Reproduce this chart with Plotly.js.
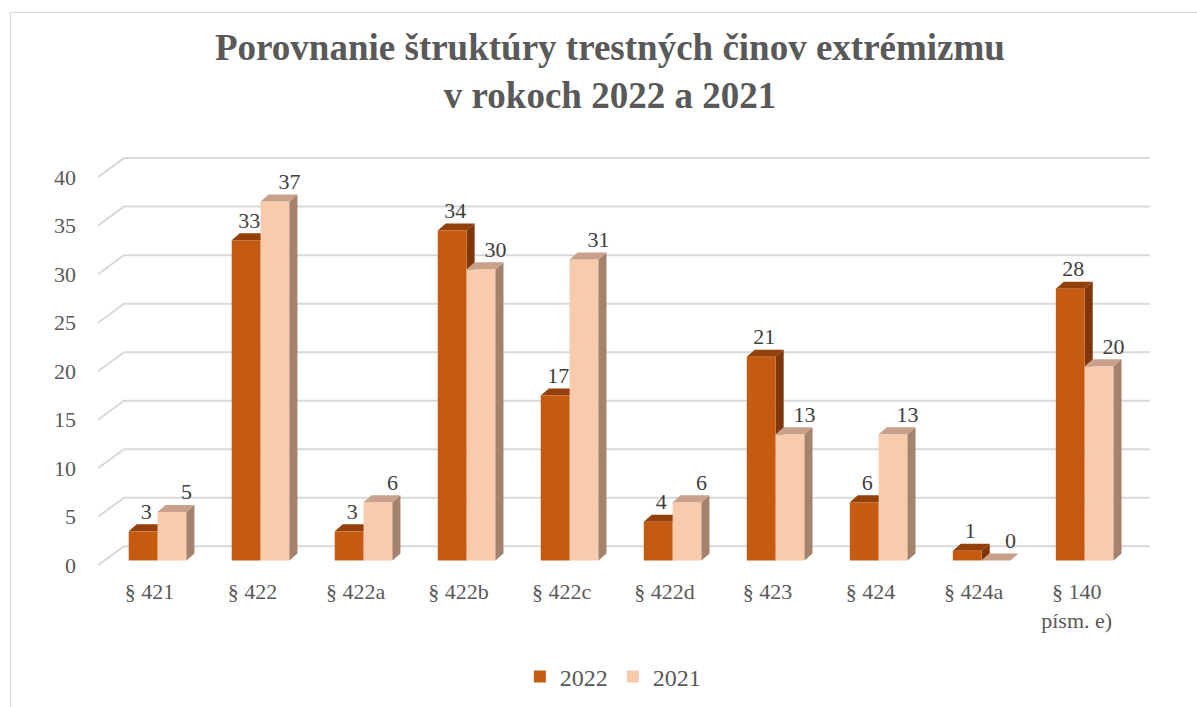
<!DOCTYPE html>
<html>
<head>
<meta charset="utf-8">
<script src="https://cdn.plot.ly/plotly-3.0.1.min.js"></script>
<style>
  html, body { margin: 0; padding: 0; background: #ffffff; }
  #wrap { position: relative; width: 1197px; height: 707px; overflow: hidden; }
  #chart { width: 1197px; height: 707px; }
  #frame { position: absolute; left: 10px; top: 12px; width: 1400px; height: 900px;
           border: 1px solid #d9d9d9; box-sizing: border-box; pointer-events: none; }
</style>
</head>
<body>
<div id="wrap"><div id="chart"></div><div id="frame"></div></div>
<script>
// ---- data ----
const categories = ['§ 421', '§ 422', '§ 422a', '§ 422b', '§ 422c', '§ 422d', '§ 423', '§ 424', '§ 424a', '§ 140<br>písm. e)'];
const values2022 = [3, 33, 3, 34, 17, 4, 21, 6, 1, 28];
const values2021 = [5, 37, 6, 30, 31, 6, 13, 13, 0, 20];
const seriesNames = ['2022', '2021'];
const yTickValues = [0, 5, 10, 15, 20, 25, 30, 35, 40];
const titleText = 'Porovnanie štruktúry trestných činov extrémizmu<br>v rokoch 2022 a 2021';

// ---- style / pseudo-3D geometry (in axis units) ----
const FONT = 'Liberation Serif';
const BAR_W = 0.28, BAR_SHIFT = 0.078, LIFT = 0.5;
const DX = 0.078, DY = 0.72;          // bar depth
const WALL_X = 0.252, WALL_Y = 1.96;  // back wall offset
const XR = [-0.5, 9.78], YR = [-1, 43];
const colFront = ['#C55A11', '#F8CBAD'];
const colTop = ['#93400D', '#C9A18A'];
const colSide = ['#7E360A', '#A5826C'];
const labelShift = [0.03, 0.14];

const idx = categories.map((_, i) => i);

function faceTraces(vals, s, axes) {
  const tx = [], ty = [], sx = [], sy = [];
  vals.forEach((v, i) => {
    const x0 = i + BAR_SHIFT + (s === 0 ? -BAR_W : 0), x1 = x0 + BAR_W, t = LIFT + v;
    tx.push(x0, x1, x1 + DX, x0 + DX, x0, null);
    ty.push(t, t, t + DY, t + DY, t, null);
    sx.push(x1, x1, x1 + DX, x1 + DX, x1, null);
    sy.push(LIFT, t, t + DY, LIFT + DY, LIFT, null);
  });
  const base = { type: 'scatter', mode: 'lines', fill: 'toself', line: { width: 0 },
                 hoverinfo: 'skip', showlegend: false, xaxis: axes[0], yaxis: axes[1] };
  return [
    Object.assign({}, base, { x: sx, y: sy, fillcolor: colSide[s] }),
    Object.assign({}, base, { x: tx, y: ty, fillcolor: colTop[s] })
  ];
}

// gridlines (perspective: front-left diagonal + back wall line)
const gx = [], gy = [];
yTickValues.forEach(t => {
  gx.push(XR[0], XR[0] + WALL_X, 9.5 + WALL_X - 0.04, null);
  gy.push(t, t + WALL_Y, t + WALL_Y, null);
});

const traces = [];
traces.push({ type: 'scatter', mode: 'lines', x: gx, y: gy, line: { color: '#D9D9D9', width: 2 },
              hoverinfo: 'skip', showlegend: false, xaxis: 'x', yaxis: 'y' });
traces.push(...faceTraces(values2022, 0, ['x', 'y']));

[values2022, values2021].forEach((vals, s) => {
  traces.push({ type: 'bar', name: seriesNames[s], x: idx.map(i => i + BAR_SHIFT), y: vals,
                base: LIFT, marker: { color: colFront[s], line: { width: 0 } },
                xaxis: 'x2', yaxis: 'y2', hoverinfo: 'y+name' });
});
traces.push(...faceTraces(values2021, 1, ['x2', 'y2']));

[values2022, values2021].forEach((vals, s) => {
  traces.push({ type: 'scatter', mode: 'text',
                x: idx.map(i => i + BAR_SHIFT + (s === 0 ? -BAR_W / 2 : BAR_W / 2) + labelShift[s]),
                y: vals.map(v => v + LIFT + DY), text: vals.map(String),
                textposition: 'top center', textfont: { family: FONT, size: 22, color: '#404040' },
                hoverinfo: 'skip', showlegend: false, xaxis: 'x2', yaxis: 'y2', cliponaxis: false });
});

const layout = {
  width: 1197, height: 707,
  margin: { l: 98, r: 40, t: 148, b: 132 },
  paper_bgcolor: 'rgba(0,0,0,0)', plot_bgcolor: 'rgba(0,0,0,0)',
  font: { family: FONT, color: '#595959' },
  title: { text: titleText, font: { family: FONT, size: 37, color: '#595959', weight: 'bold' },
           xref: 'container', x: 0.5096, xanchor: 'center', yref: 'container', y: 0.915, yanchor: 'top' },
  barmode: 'group', bargap: 0.44, bargroupgap: 0,
  xaxis: { range: XR, tickvals: idx, ticktext: categories, showgrid: false, zeroline: false,
           showline: false, ticks: '', tickfont: { family: FONT, size: 22, color: '#595959' },
           ticklabelstandoff: 1, fixedrange: true },
  yaxis: { range: YR, tickvals: yTickValues, showgrid: false, zeroline: false, showline: false,
           ticks: '', tickfont: { family: FONT, size: 22, color: '#595959' },
           ticklabelstandoff: 21, fixedrange: true },
  xaxis2: { range: XR, overlaying: 'x', anchor: 'y2', visible: false, fixedrange: true },
  yaxis2: { range: YR, overlaying: 'y', anchor: 'x2', visible: false, fixedrange: true },
  legend: { orientation: 'h', xref: 'container', x: 0.512, xanchor: 'center',
            yref: 'container', y: 0.0424, yanchor: 'middle',
            font: { family: FONT, size: 24, color: '#595959' }, traceorder: 'normal' },
  showlegend: true
};

Plotly.newPlot('chart', traces, layout, { displayModeBar: false, staticPlot: true });
</script>
</body>
</html>
